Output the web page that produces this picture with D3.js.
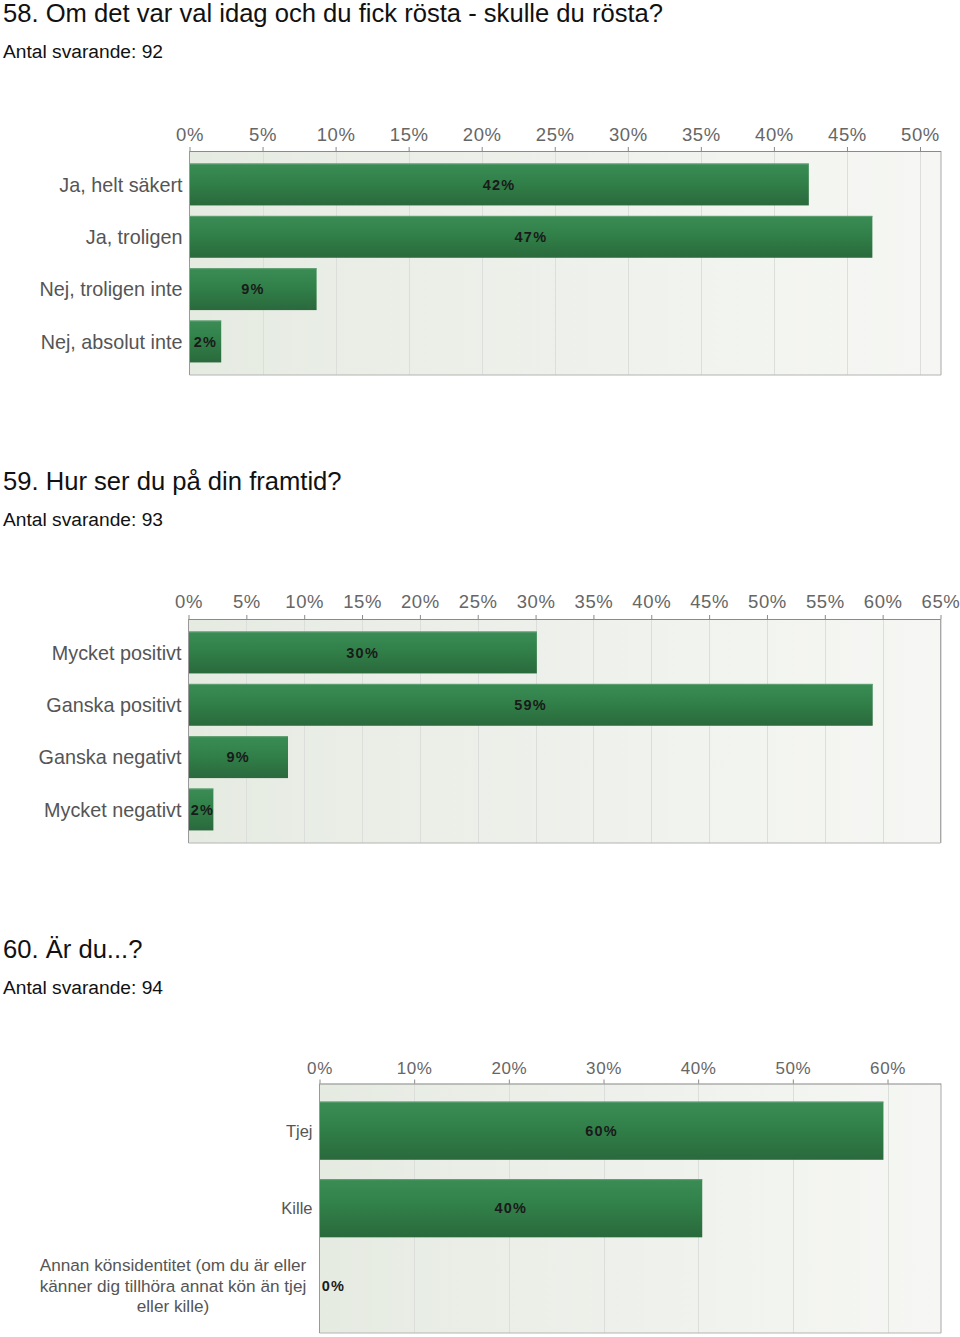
<!DOCTYPE html>
<html>
<head>
<meta charset="utf-8">
<script src="https://cdn.jsdelivr.net/npm/d3@7/dist/d3.min.js"></script>
<style>
  body { margin: 0; background: #fff; }
  svg { display: block; }
  .title { font-family: "Liberation Sans", Arial, sans-serif; fill: #111; }
  .tick-label { font-family: "Liberation Sans", Arial, sans-serif; fill: #666; letter-spacing: 0.6px; }
  .cat-label { font-family: "Liberation Sans", Arial, sans-serif; fill: #555; }
  .value-label { font-family: "Liberation Sans", Arial, sans-serif; font-weight: bold; fill: #1a1a1a; letter-spacing: 1.2px; }
</style>
</head>
<body>
<svg id="canvas" width="960" height="1337"></svg>
<script>
// question 58
var q58Title = "58. Om det var val idag och du fick rösta - skulle du rösta?";
var q58Count = "Antal svarande: 92";
var q58Categories = ["Ja, helt säkert", "Ja, troligen", "Nej, troligen inte", "Nej, absolut inte"];
var q58Values = [42.39, 46.74, 8.70, 2.17];
var q58Ticks = [0, 5, 10, 15, 20, 25, 30, 35, 40, 45, 50];

// question 59
var q59Title = "59. Hur ser du på din framtid?";
var q59Count = "Antal svarande: 93";
var q59Categories = ["Mycket positivt", "Ganska positivt", "Ganska negativt", "Mycket negativt"];
var q59Values = [30.11, 59.14, 8.60, 2.15];
var q59Ticks = [0, 5, 10, 15, 20, 25, 30, 35, 40, 45, 50, 55, 60, 65];

// question 60
var q60Title = "60. Är du...?";
var q60Count = "Antal svarande: 94";
var q60Categories = ["Tjej", "Kille", "Annan könsidentitet (om du är eller|känner dig tillhöra annat kön än tjej|eller kille)"];
var q60Values = [59.57, 40.43, 0];
var q60Ticks = [0, 10, 20, 30, 40, 50, 60];

var svg = d3.select("#canvas");

var defs = svg.append("defs");
var bg = defs.append("linearGradient").attr("id", "plot-bg")
    .attr("x1", "0").attr("y1", "0").attr("x2", "1").attr("y2", "0");
bg.append("stop").attr("offset", "0%").attr("stop-color", "#e6ebe2");
bg.append("stop").attr("offset", "100%").attr("stop-color", "#f6f7f4");

var barGrad = defs.append("linearGradient").attr("id", "bar-fill")
    .attr("x1", "0").attr("y1", "0").attr("x2", "0").attr("y2", "1");
barGrad.append("stop").attr("offset", "0%").attr("stop-color", "#3a8c55");
barGrad.append("stop").attr("offset", "45%").attr("stop-color", "#318049");
barGrad.append("stop").attr("offset", "100%").attr("stop-color", "#2a693c");

function drawHeader(title, count, titleY) {
    svg.append("text").attr("class", "title")
        .attr("x", 3).attr("y", titleY)
        .style("font-size", "25.6px")
        .text(title);
    svg.append("text").attr("class", "title")
        .attr("x", 3).attr("y", titleY + 36)
        .style("font-size", "19.2px")
        .text(count);
}

function drawChart(opts) {
    var categories = opts.categories,
        values = opts.values;

    var x = d3.scaleLinear()
        .domain([0, opts.ticks[opts.ticks.length - 1]])
        .range([opts.left, opts.tickRight]);

    var y = d3.scaleBand()
        .domain(categories)
        .range([opts.top, opts.bottom])
        .paddingInner(opts.padInner)
        .paddingOuter(opts.padOuter);

    var g = svg.append("g").attr("class", "chart");

    // plot background
    g.append("rect")
        .attr("x", opts.left).attr("y", opts.top)
        .attr("width", opts.right - opts.left)
        .attr("height", opts.bottom - opts.top)
        .attr("fill", "url(#plot-bg)");

    // grid lines
    g.selectAll(".grid").data(opts.ticks.slice(1))
        .enter().append("line").attr("class", "grid")
        .attr("x1", function (d) { return Math.round(x(d)) + 0.5; })
        .attr("x2", function (d) { return Math.round(x(d)) + 0.5; })
        .attr("y1", opts.top).attr("y2", opts.bottom)
        .attr("stroke", "#dcdedb").attr("stroke-width", 1);

    // borders
    g.append("line")
        .attr("x1", opts.right).attr("x2", opts.right)
        .attr("y1", opts.top).attr("y2", opts.bottom)
        .attr("stroke", "#a8a8a8");
    g.append("line")
        .attr("x1", opts.left).attr("x2", opts.right)
        .attr("y1", opts.bottom).attr("y2", opts.bottom)
        .attr("stroke", "#b4b4b4");

    // bars
    g.selectAll(".bar").data(values)
        .enter().append("rect").attr("class", "bar")
        .attr("x", x(0))
        .attr("y", function (d, i) { return y(categories[i]); })
        .attr("width", function (d) { return x(d) - x(0); })
        .attr("height", y.bandwidth())
        .attr("fill", "url(#bar-fill)");
    g.selectAll(".bar-top").data(values)
        .enter().append("line").attr("class", "bar-top")
        .attr("x1", x(0))
        .attr("x2", function (d) { return x(d); })
        .attr("y1", function (d, i) { return y(categories[i]) + 0.5; })
        .attr("y2", function (d, i) { return y(categories[i]) + 0.5; })
        .attr("stroke", "#62a073").attr("stroke-width", 1)
        .attr("opacity", function (d) { return d > 0 ? 1 : 0; });

    // value labels
    g.selectAll(".value-label").data(values)
        .enter().append("text").attr("class", "value-label")
        .attr("x", function (d) { return Math.max((x(0) + x(d)) / 2, x(0) + 14); })
        .attr("y", function (d, i) { return y(categories[i]) + y.bandwidth() / 2; })
        .attr("dy", "0.36em")
        .attr("text-anchor", "middle")
        .style("font-size", opts.valueSize + "px")
        .text(function (d) { return Math.round(d) + "%"; });

    // top axis
    var axis = d3.axisTop(x)
        .tickValues(opts.ticks)
        .tickSize(4)
        .tickFormat(function (d) { return d + "%"; });
    var ax = g.append("g")
        .attr("transform", "translate(0," + opts.top + ")")
        .call(axis);
    ax.select(".domain")
        .attr("d", "M" + opts.left + ",0.5H" + opts.right)
        .attr("stroke", "#8a8a8a");
    ax.selectAll(".tick line").attr("stroke", "#8a8a8a");
    ax.selectAll(".tick text")
        .attr("class", "tick-label")
        .attr("y", -(opts.tickGap))
        .attr("dy", 0)
        .attr("fill", null)
        .style("font-size", opts.tickSize + "px")
        .style("font-family", null);

    // left edge (0% line)
    g.append("line")
        .attr("x1", opts.left).attr("x2", opts.left)
        .attr("y1", opts.top).attr("y2", opts.bottom)
        .attr("stroke", "#999");

    // category labels (| marks a line break)
    g.selectAll(".cat-label").data(categories)
        .enter().append("text").attr("class", "cat-label")
        .style("font-size", opts.catSize + "px")
        .each(function (d) {
            var lines = d.split("|");
            var t = d3.select(this);
            var cy = y(d) + y.bandwidth() / 2;
            if (lines.length === 1) {
                t.attr("x", opts.left - 7).attr("y", cy).attr("dy", "0.36em")
                    .attr("text-anchor", "end").text(d);
            } else {
                var lh = 20.5;
                t.attr("text-anchor", "middle").style("font-size", opts.wrapSize + "px");
                lines.forEach(function (line, k) {
                    t.append("tspan")
                        .attr("x", opts.wrapCenter)
                        .attr("y", cy + (k - (lines.length - 1) / 2) * lh)
                        .attr("dy", "0.36em")
                        .text(line);
                });
            }
        });
}

drawHeader(q58Title, q58Count, 22);
drawChart({
    categories: q58Categories, values: q58Values, ticks: q58Ticks,
    left: 189.5, tickRight: 920, right: 941,
    top: 151, bottom: 375, padInner: 0.2, padOuter: 0.24,
    tickSize: 18.5, tickGap: 10, catSize: 19.8, valueSize: 14.5
});

drawHeader(q59Title, q59Count, 490);
drawChart({
    categories: q59Categories, values: q59Values, ticks: q59Ticks,
    left: 188.5, tickRight: 940.5, right: 940.5,
    top: 619, bottom: 843, padInner: 0.2, padOuter: 0.24,
    tickSize: 18.5, tickGap: 11, catSize: 19.8, valueSize: 14.5
});

drawHeader(q60Title, q60Count, 958);
drawChart({
    categories: q60Categories, values: q60Values, ticks: q60Ticks,
    left: 319.5, tickRight: 887.5, right: 941,
    top: 1083.5, bottom: 1333, padInner: 0.25, padOuter: 0.234,
    tickSize: 17, tickGap: 10, catSize: 16.5, valueSize: 14.5,
    wrapCenter: 173, wrapSize: 17.2
});
</script>
</body>
</html>
